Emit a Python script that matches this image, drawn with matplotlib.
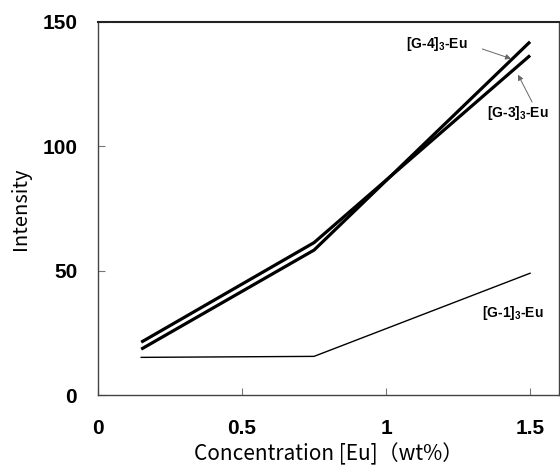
import matplotlib
matplotlib.use("Agg")
import matplotlib.pyplot as plt

plt.rcParams['mathtext.fontset'] = 'custom'
plt.rcParams['mathtext.rm'] = 'Liberation Sans'
plt.rcParams['mathtext.bf'] = 'Liberation Sans:bold'

conc = [0.15, 0.75, 1.5]
g4 = [18.5, 58.3, 142.0]
g3 = [21.3, 61.3, 136.5]
g1 = [15.2, 15.6, 49.0]

x_ticks = [0, 0.5, 1, 1.5]
x_tick_labels = ['0', '0.5', '1', '1.5']
y_ticks = [0, 50, 100, 150]

fig = plt.figure(figsize=(5.6, 4.75), dpi=100)
ax = fig.add_axes([0.175, 0.168, 0.823, 0.786])

ax.plot(conc, g4, color='black', lw=2.3, solid_capstyle='butt')
ax.plot(conc, g3, color='black', lw=2.3, solid_capstyle='butt')
ax.plot(conc, g1, color='black', lw=1.0)

ax.set_xlim(0, 1.6)
ax.set_ylim(0, 150)
ax.set_xticks(x_ticks)
ax.set_xticklabels(x_tick_labels)
ax.set_yticks(y_ticks)
ax.tick_params(direction='in', length=5, width=0.8, color='#777777')
ax.tick_params(axis='x', pad=17)
ax.tick_params(axis='y', pad=15)
for lab in ax.get_xticklabels() + ax.get_yticklabels():
    lab.set_fontfamily('Liberation Sans')
    lab.set_fontweight('bold')
    lab.set_fontsize(15)

for side in ['left', 'bottom', 'right']:
    ax.spines[side].set_color('#444444')
    ax.spines[side].set_linewidth(1.0)
ax.spines['top'].set_color('#222222')
ax.spines['top'].set_linewidth(1.5)

ax.set_xlabel('Concentration [Eu]（wt%）', family=['Noto Sans CJK JP', 'DejaVu Sans'], fontsize=15, labelpad=4)
ax.set_ylabel('Intensity', family=['Noto Sans CJK JP', 'DejaVu Sans'], fontsize=14.5, labelpad=8)

# labels
lab_style = dict(fontsize=10, fontweight='bold', family='Liberation Sans', va='center', ha='left')
ax.text(1.07, 141, '[G-4]$_\\mathbf{3}$-Eu', **lab_style)
ax.text(1.351, 113.4, '[G-3]$_\\mathbf{3}$-Eu', **lab_style)
ax.text(1.334, 33, '[G-1]$_\\mathbf{3}$-Eu', **lab_style)

# leader arrows
arrow = dict(arrowstyle='-|>', color='#666666', lw=0.7, mutation_scale=8, shrinkA=0, shrinkB=0)
ax.annotate('', xy=(1.434, 135.2), xytext=(1.334, 139.1), arrowprops=arrow)
ax.annotate('', xy=(1.458, 128.8), xytext=(1.507, 117.8), arrowprops=arrow)

fig.savefig('out.png', dpi=100)
